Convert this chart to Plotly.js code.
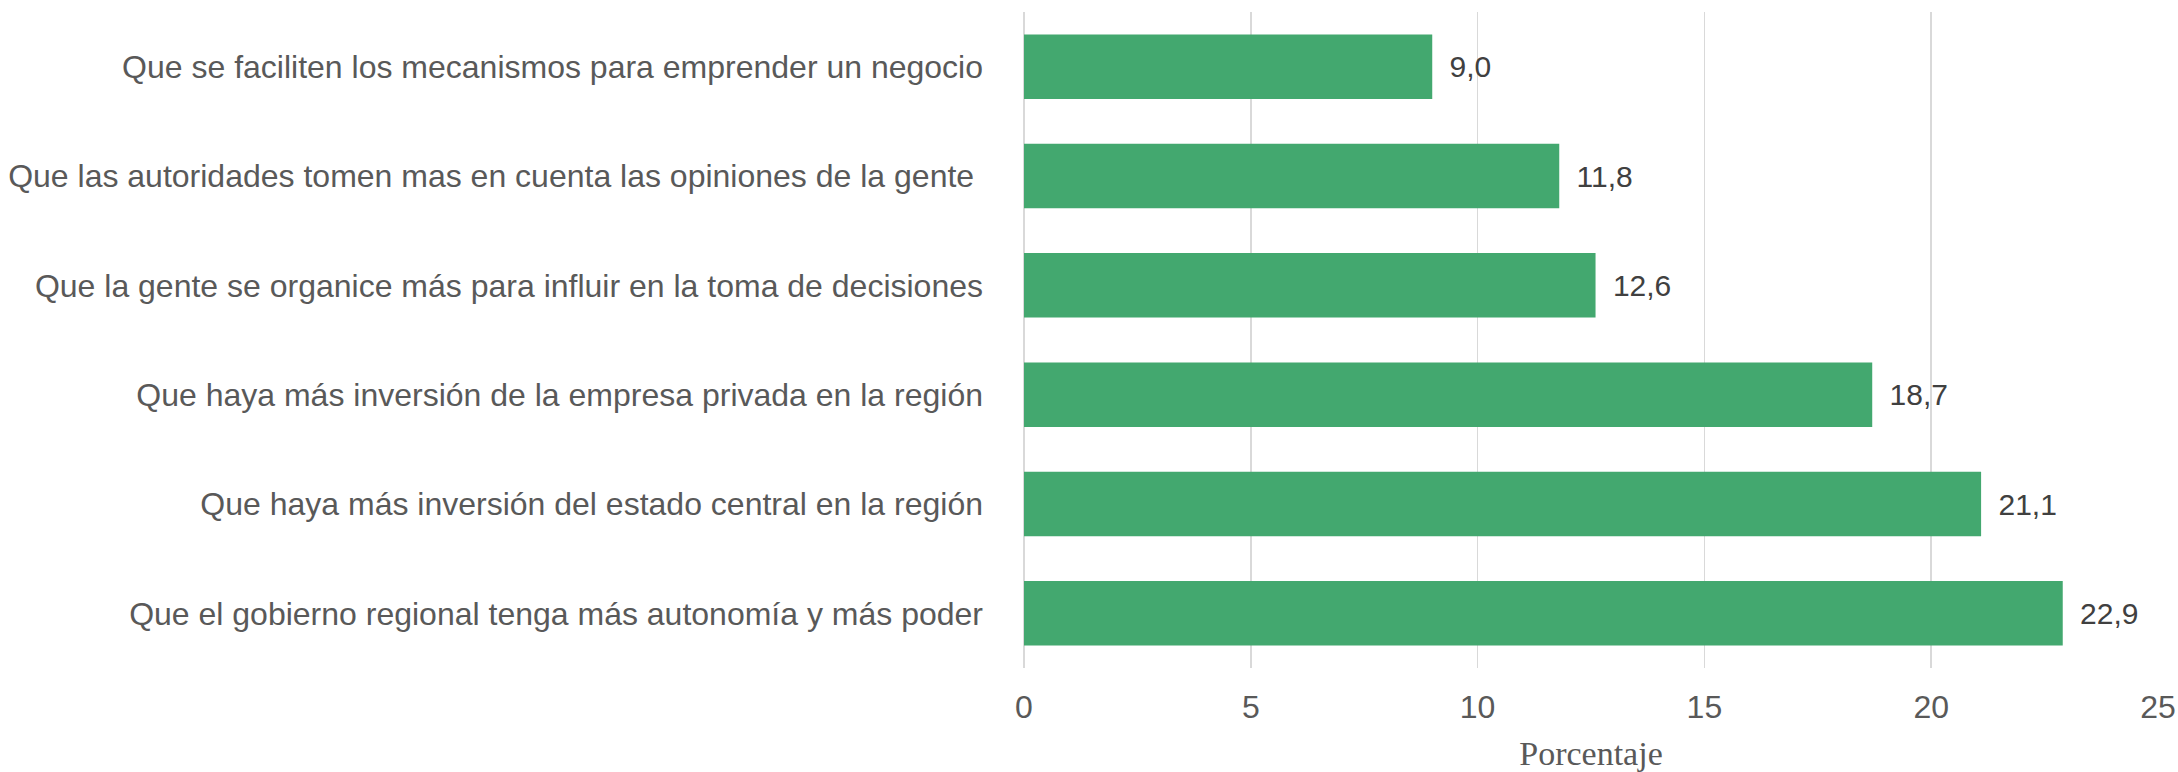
<!DOCTYPE html>
<html>
<head>
<meta charset="utf-8">
<script src="https://cdn.plot.ly/plotly-3.0.1.min.js"></script>
<style>html,body{margin:0;padding:0;background:#fff;}#chart{width:2178px;height:772px;}</style>
</head>
<body>
<div id="chart"></div>
<script>
const categories = [
  "Que se faciliten los mecanismos para emprender un negocio",
  "Que las autoridades tomen mas en cuenta las opiniones de la gente\u00a0",
  "Que la gente se organice más para influir en la toma de decisiones",
  "Que haya más inversión de la empresa privada en la región",
  "Que haya más inversión del estado central en la región",
  "Que el gobierno regional tenga más autonomía y más poder"
];
const values = [9.0, 11.8, 12.6, 18.7, 21.1, 22.9];
const xTicks = [0, 5, 10, 15, 20, 25];
const xTitle = "Porcentaje";

const SANS = "'Liberation Sans', Arial, sans-serif";
const SERIF = "'Liberation Serif', 'Times New Roman', serif";

const trace = {
  type: 'bar',
  orientation: 'h',
  x: values,
  y: categories,
  marker: {color: '#43A86F'},
  texttemplate: '\u00a0\u2009%{x:.1f}',
  textposition: 'outside',
  cliponaxis: false,
  textfont: {family: SANS, size: 30, color: '#404040'},
  hoverinfo: 'none'
};

const layout = {
  width: 2178,
  height: 772,
  margin: {l: 1024, r: 20, t: 12, b: 104},
  paper_bgcolor: '#ffffff',
  plot_bgcolor: '#ffffff',
  separators: ',.',
  bargap: 0.41,
  showlegend: false,
  font: {family: SANS, color: '#595959'},
  xaxis: {
    range: [0, 25],
    tickvals: xTicks,
    ticktext: xTicks.map(String),
    showgrid: true,
    gridcolor: '#d9d9d9',
    gridwidth: 1.5,
    zeroline: true,
    zerolinecolor: '#d9d9d9',
    zerolinewidth: 1.5,
    showline: false,
    ticks: '',
    ticklabelstandoff: 17,
    tickfont: {family: SANS, size: 32, color: '#595959'},
    title: {text: xTitle, standoff: 17, font: {family: SERIF, size: 34, color: '#595959'}}
  },
  yaxis: {
    autorange: 'reversed',
    showgrid: false,
    zeroline: false,
    showline: false,
    ticks: '',
    ticklabelstandoff: 40,
    tickfont: {family: SANS, size: 32, color: '#595959'}
  }
};

Plotly.newPlot('chart', [trace], layout, {staticPlot: true, displayModeBar: false});
</script>
</body>
</html>
